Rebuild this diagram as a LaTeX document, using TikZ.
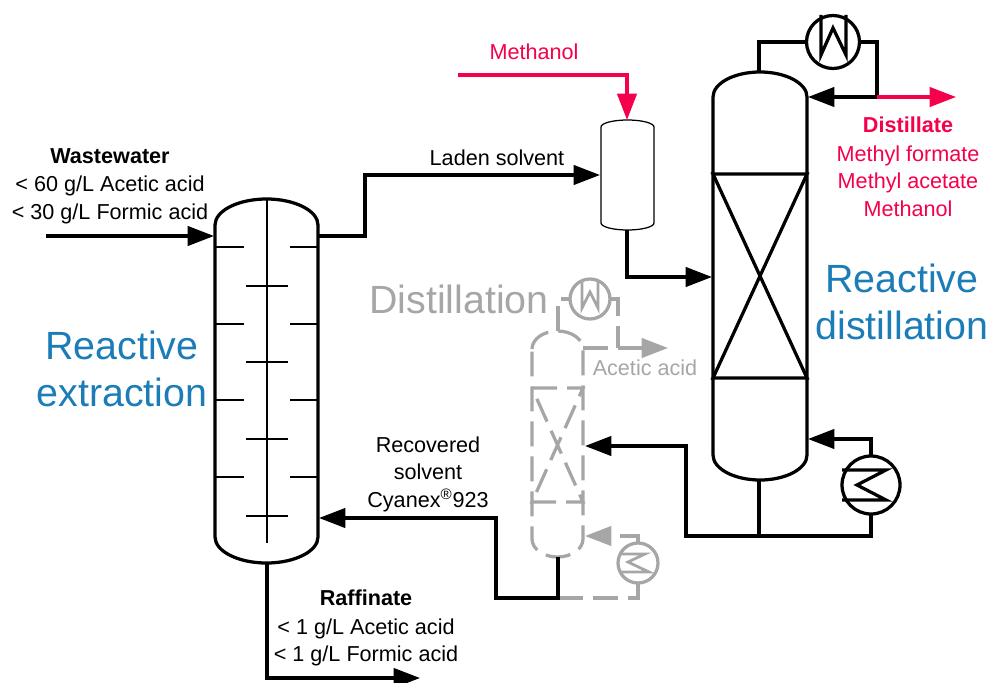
\documentclass[tikz,border=0pt]{standalone}
\usepackage{fontspec}
\setmainfont{Liberation Sans}
\usetikzlibrary{arrows.meta}
\definecolor{redflow}{HTML}{F5004B}
\definecolor{blueflow}{HTML}{1C7CB8}
\definecolor{greyflow}{HTML}{A6A6A6}
\def\vessel[#1](#2,#3,#4,#5,#6){\draw[#1] (#2, #4+#6) .. controls (#2, #4+0.45*#6) and ({#2+0.225*(#3-#2)}, #4) .. ({(#2+#3)/2}, #4) .. controls ({#3-0.225*(#3-#2)}, #4) and (#3, #4+0.45*#6) .. (#3, #4+#6) -- (#3, #5-#6) .. controls (#3, #5-0.45*#6) and ({#3-0.225*(#3-#2)}, #5) .. ({(#2+#3)/2}, #5) .. controls ({#2+0.225*(#3-#2)}, #5) and (#2, #5-0.45*#6) .. (#2, #5-#6) -- cycle;}
\tikzset{
	pipe/.style={line width=0.65mm},
	flow/.style={pipe, -{Triangle[length=15pt, width=11pt]}},
	redpipe/.style={flow, color=redflow},
	greypipe/.style={line width=0.65mm, color=greyflow, dash pattern=on 0.5cm off 0.2cm},
	greyflow/.style={greypipe, -{Triangle[length=15pt, width=11pt]}},
	tray/.style={line width=0.3mm},
	hx/.style={draw, circle, line width=0.65mm, inner sep=0, outer sep=0, minimum size=1.06cm},
	greyhx/.style={draw=greyflow, circle, line width=0.65mm, inner sep=0, outer sep=0, minimum size=0.8cm},
	small/.style={align=center, inner sep=0, font=\fontsize{12.3}{15.6}\selectfont},
	big/.style={align=center, inner sep=0, color=blueflow, font=\fontsize{22.4}{27.2}\selectfont},
}

\begin{document}
\begin{tikzpicture}[x=0.02cm, y=-0.02cm]
	%%%%% START %%%%%
	\clip (0, 0) rectangle (989, 682);

	%%%%% extraction
	\vessel[pipe](215, 318, 199, 563, 26);
	\draw[tray] (267, 199) -- (267, 543);
	\foreach \y in {247, 324, 400, 477} {
		\draw[tray] (215, \y) -- (244, \y);
		\draw[tray] (290, \y) -- (318, \y);
	}
	\foreach \y in {286, 362, 439, 516}
		\draw[tray] (246, \y) -- (288, \y);

	%%%%% drum
	\vessel[line width=0.25mm](601, 654, 120, 230, 7);

	%%%%% reactive distillation
	\vessel[pipe](713, 807, 72, 480, 25);
	\draw[pipe] (713, 174) -- (807, 174) -- (713, 378) -- (807, 378) -- cycle;

	\node[hx] (cond) at (833, 42) {};
	\draw[pipe, shift={(cond.center)}] (-12, -27) -- (-12, 13) -- (0, -14) -- (13, 13) -- (13, -27);
	\node[hx, minimum size=1.16cm] (reb) at (871, 485) {};
	\draw[pipe, shift={(reb.center)}] (-29, -15) -- (15, -15) -- (-14, 0) -- (15, 15) -- (-29, 15);

	%%%%% distillation
	\vessel[greypipe](532, 583, 331, 557, 18);
	\draw[greypipe] (532, 388) -- (583, 388) -- (532, 502) -- (583, 502) -- cycle;

	\node[greyhx] (gcond) at (590, 299) {};
	\draw[line width=0.55mm, color=greyflow, shift={(gcond.center)}] (-8, -19) -- (-8, 9) -- (0, -7) -- (8, 9) -- (8, -19);
	\node[greyhx] (greb) at (638, 563) {};
	\draw[line width=0.55mm, color=greyflow, shift={(greb.center)}] (-17, -9) -- (7, -9) -- (-10, -1) -- (11, 9) -- (-17, 9);

	%%%%% ports
	\coordinate (exttop) at (318, 236);
	\coordinate (extfeed) at (214, 236);
	\coordinate (wastein) at (46, 236);
	\coordinate (extside) at (319, 518);
	\coordinate (extbot) at (267, 563);
	\coordinate (raffout) at (420, 678);
	\coordinate (methin) at (458, 75);
	\coordinate (drumtop) at (627, 120);
	\coordinate (drumside) at (600, 175);
	\coordinate (drumbot) at (627, 230);
	\coordinate (colside) at (712, 277);
	\coordinate (coltop) at (759, 72);
	\coordinate (colbot) at (759, 480);
	\coordinate (colrefl) at (808, 97);
	\coordinate (split) at (877, 97);
	\coordinate (distout) at (956, 97);
	\coordinate (colreb) at (808, 439);
	\coordinate (botline) at (759, 536);
	\coordinate (gfeed) at (585, 446);
	\coordinate (gtop) at (558, 331);
	\coordinate (gbot) at (558, 557);
	\coordinate (gout) at (668, 348);
	\coordinate (gport) at (583, 348);
	\coordinate (grefl) at (618, 348);
	\coordinate (greb_in) at (585, 536);
	\coordinate (gsump) at (558, 598);

	%%%%% streams
	\draw[flow] (wastein) -- (extfeed);
	\draw[flow] (exttop) -- (365, 236) -- (365, 175) -- (drumside);
	\draw[flow] (extbot) |- (raffout);
	\draw[redpipe] (methin) -| (drumtop);
	\draw[flow] (drumbot) |- (colside);
	\draw[pipe] (coltop) |- (cond.west);
	\draw[pipe] (cond.east) -| (split);
	\draw[flow] (split) -- (colrefl);
	\draw[redpipe] (split) -- (distout);
	\draw[flow] (reb.north) |- (colreb);
	\draw[pipe] (colbot) -- (botline);
	\draw[flow] (reb.south) |- (686, 536) -- (686, 446) -- (gfeed);
	\draw[greypipe] (gtop) |- (gcond.west);
	\draw[greypipe] (gcond.east) -| (grefl);
	\draw[greyflow] (gport) -- (gout);
	\draw[greyflow] (greb.north) |- (greb_in);
	\draw[greypipe] (greb.south) |- (gsump);
	\draw[flow] (gbot) |- (496, 598) -- (496, 518) -- (extside);

	%%%%% labels
	\node[small] (waste) at (110, 186) {\textbf{Wastewater}\\[0.8pt]< 60 g/L Acetic acid\\< 30 g/L Formic acid};
	\node[small, color=redflow] (meth) at (534, 52) {Methanol};
	\node[small] (laden) at (497, 158) {Laden solvent};
	\node[small, color=redflow] (dist) at (908, 166.5) {\textbf{Distillate}\\[0.8pt]Methyl formate\\Methyl acetate\\Methanol};
	\node[small] (recov) at (428, 474) {Recovered\\solvent\\Cyanex\textsuperscript{\textregistered}923};
	\node[small] (raff) at (366, 628) {\textbf{Raffinate}\\[0.8pt]< 1 g/L Acetic acid\\< 1 g/L Formic acid};
	\node[small, color=greyflow] (gacid) at (645, 368) {Acetic acid};
	\node[big] (rext) at (122, 369) {Reactive\\extraction};
	\node[big] (rdist) at (902, 302) {Reactive\\distillation};
	\node[big, color=greyflow] (gdist) at (459, 299) {Distillation};
	%%%%% END %%%%%
\end{tikzpicture}
\end{document}
